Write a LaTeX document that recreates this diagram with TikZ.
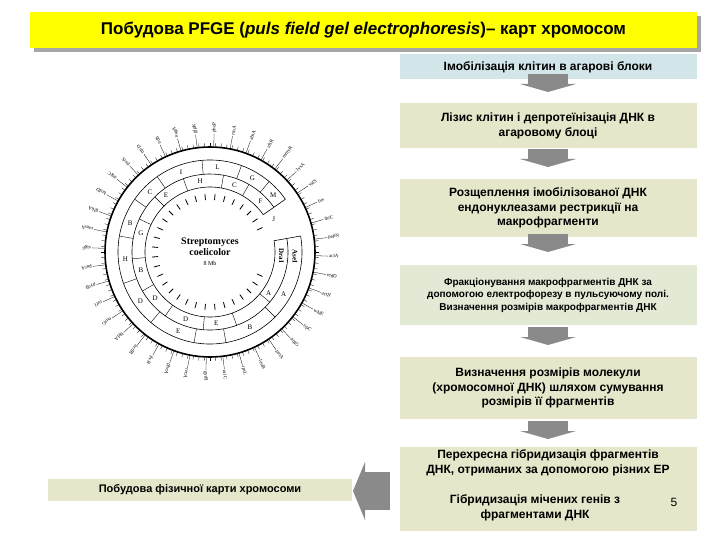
\documentclass[tikz,border=0pt]{standalone}
\usepackage{fontspec}
\setmainfont{Liberation Sans}
\newfontfamily\serifm{Liberation Serif}
\usetikzlibrary{calc}
\definecolor{ttl}{HTML}{FFFF00}
\definecolor{bblue}{HTML}{D2E6EA}
\definecolor{bbeige}{HTML}{E6E6CA}
\definecolor{bgreen}{HTML}{E2EAD6}
\definecolor{agray}{HTML}{8A8A8A}
\tikzset{
  stepbox/.style={fill=#1, draw=none, minimum width=297pt, align=center, font=\bfseries\fontsize{12}{14.5}\selectfont, inner sep=2pt},
  gene/.style={font=\serifm\fontsize{5}{5}\selectfont, inner sep=0pt},
  seg/.style={font=\serifm\fontsize{7}{7}\selectfont, inner sep=0pt}
}
\newcommand{\mydownarr}[1]{\fill[agray] ($(#1)+(-20,-10)$) rectangle ($(#1)+(20,0)$);
  \fill[agray] ($(#1)+(-28,0)$) -- ($(#1)+(28,0)$) -- ($(#1)+(0,8)$) -- cycle;}
\begin{document}
\begin{tikzpicture}[x=1pt,y=-1pt]
\useasboundingbox (0,0) rectangle (720,540);
\fill[white] (0,0) rectangle (720,540);
% title
\fill[gray!70] (34,16) rectangle (701,52);
\node[fill=ttl, minimum width=667pt, minimum height=36pt, inner sep=0pt, font=\bfseries\fontsize{17}{19}\selectfont] (title) at (363.5,30) {Побудова PFGE (\textit{puls field gel electrophoresis})– карт хромосом};
% steps
\node[stepbox=bblue, minimum height=25pt] (s1) at (548,67) {Імобілізація клітин в агарові блоки};
\node[stepbox=bbeige, minimum height=45pt] (s2) at (548,126) {Лізис клітин і депротеїнізація ДНК в\\агаровому блоці};
\node[stepbox=bbeige, minimum height=57pt] (s3) at (548,208) {Розщеплення імобілізованої ДНК\\ендонуклеазами рестрикції на\\макрофрагменти};
\node[stepbox=bgreen, minimum height=60pt, font=\bfseries\fontsize{10}{12.5}\selectfont] (s4) at (548,295) {Фракціонування макрофрагментів ДНК за\\допомогою електрофорезу в пульсуючому полі.\\Визначення розмірів  макрофрагментів ДНК};
\node[stepbox=bbeige, minimum height=62pt] (s5) at (548,388) {Визначення розмірів молекули\\(хромосомної ДНК) шляхом сумування\\розмірів її фрагментів};
\node[stepbox=bbeige, minimum height=84pt] (s6) at (548,489) {};
\node[font=\bfseries\fontsize{12}{14.5}\selectfont, align=center] (t6a) at (548,463) {Перехресна гібридизація фрагментів\\ДНК, отриманих за допомогою різних ЕР};
\node[font=\bfseries\fontsize{12}{14.5}\selectfont, align=center] (t6b) at (535,508) {Гібридизація мічених генів з\\фрагментами ДНК};
\node[font=\fontsize{12}{13}\selectfont] (pg) at (674,502) {5};
\coordinate (a1) at (548,84);
\coordinate (a2) at (548,159);
\coordinate (a3) at (548,244);
\coordinate (a4) at (548,337);
\coordinate (a5) at (548,431);
\foreach \p in {a1,a2,a3,a4,a5}{\mydownarr{\p}}
% left box and arrow
\node[fill=bbeige, minimum width=304pt, minimum height=22pt, font=\bfseries\fontsize{11}{13}\selectfont, inner sep=0pt] (map) at (200,490) {Побудова фізичної карти хромосоми};
\fill[agray] (365,472) rectangle (390,510);
\fill[agray] (365,462) -- (365,520) -- (353,491) -- cycle;
% circular map
\coordinate (c) at (210,252);
\draw[line width=1.6pt] (c) circle[radius=105];
\foreach \a in {0,3,...,357}{
  \draw[line width=0.3pt] ($(c)+(\a:105)$) -- ($(c)+(\a:109)$);
}
\foreach \a/\g in {2/actA,11/redD,20/actII,29/whiE,38/trpC,47/argG,56/proA,65/leuB,74/rpsL,83/oriC,92/gyrB,101/recA,110/pheA,119/ilvB,128/hrdB,137/bldA,146/nusG,155/tuf1,164/pyrB,173/purA,182/sigF,191/ramA,200/glkA,209/hrdD,218/argC,227/pstS,236/trpD,245/ndh,254/nagA,263/glpK,272/phoP,281/rrnA,290/absA,299/afsR,308/mmyR,317/lysA,326/valS,335/fus,344/thrC,353/pepN}{
  \draw[line width=0.3pt] ($(c)+(\a:105)$) -- ($(c)+(\a:118)$);
  \node[gene, anchor=west, rotate=-\a] (g\a) at ($(c)+(\a:119)$) {\g};
}
\draw[line width=0.6pt] ($(c)+(350:92)$) arc[start angle=350, end angle=685, radius=92];
\draw[line width=0.6pt] ($(c)+(350:78)$) arc[start angle=350, end angle=685, radius=78];
\draw[line width=0.6pt] ($(c)+(350:65)$) arc[start angle=350, end angle=685, radius=65];
\draw[line width=0.6pt] ($(c)+(350:65)$) -- ($(c)+(350:92)$);
\draw[line width=0.6pt] ($(c)+(325:65)$) -- ($(c)+(325:92)$);
\foreach \a in {45,80,100,130,160,190,215,235,265,290,310}{
  \draw[line width=0.4pt] ($(c)+(\a:78)$) -- ($(c)+(\a:92)$);}
\foreach \a in {40,70,95,125,150,175,205,225,250,280,300}{
  \draw[line width=0.4pt] ($(c)+(\a:65)$) -- ($(c)+(\a:78)$);}
\foreach \a/\s in {30/A,62/B,112/E,145/D,175/H,200/B,225/C,250/I,275/L,300/G,318/M}{
  \node[seg] (o\a) at ($(c)+(\a:85)$) {\s};}
\foreach \a/\s in {35/A,85/E,110/D,140/D,165/B,195/G,232/E,262/H,290/C,315/F,333/J}{
  \node[seg] (m\a) at ($(c)+(\a:71.5)$) {\s};}
\node[seg, rotate=-90, font=\serifm\bfseries\fontsize{7}{7}\selectfont] (ase) at ($(c)+(3:85)$) {AseI};
\node[seg, rotate=-90, font=\serifm\bfseries\fontsize{7}{7}\selectfont] (dra) at ($(c)+(3:71.5)$) {DraI};
\foreach \a in {25,35,...,340}{
  \draw[line width=0.8pt] ($(c)+(\a:52)$) -- ($(c)+(\a:58)$);}
\node[font=\serifm\bfseries\fontsize{10}{11}\selectfont, align=center] (name) at (c) {Streptomyces\\coelicolor\\[-1pt]{\mdseries\fontsize{6}{7}\selectfont 8 Mb}};
\end{tikzpicture}
\end{document}
